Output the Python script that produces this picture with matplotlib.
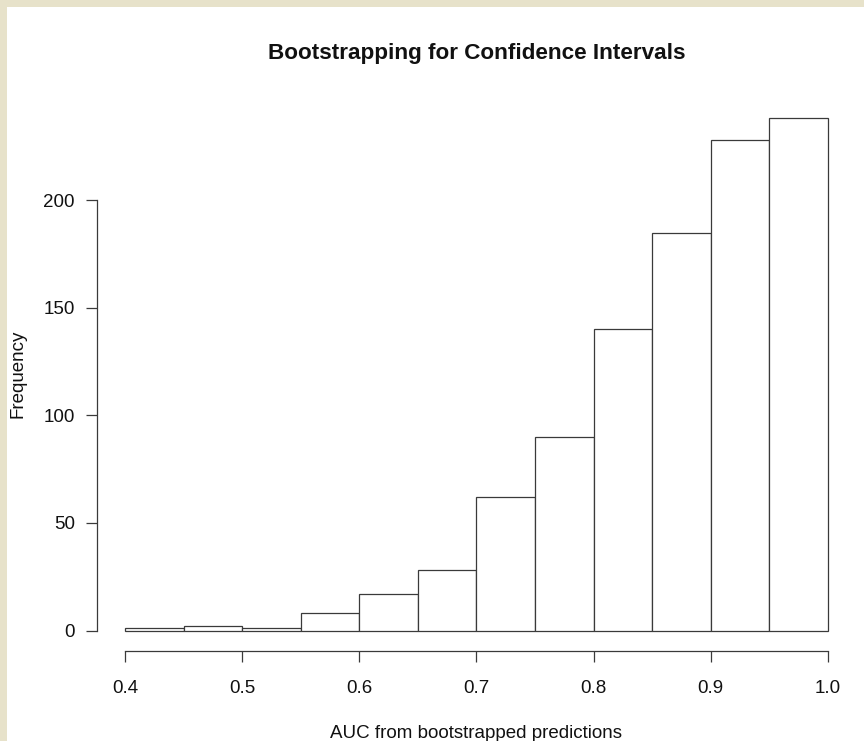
import matplotlib
matplotlib.use("Agg")
import matplotlib.pyplot as plt
from matplotlib.patches import Rectangle
import numpy as np

# Histogram of bootstrapped AUC values (bin edges and counts)
bin_edges = [0.40, 0.45, 0.50, 0.55, 0.60, 0.65, 0.70, 0.75, 0.80, 0.85, 0.90, 0.95, 1.00]
counts = [1, 2, 1, 8, 17, 28, 62, 90, 140, 185, 228, 238]
x_ticks = [0.4, 0.5, 0.6, 0.7, 0.8, 0.9, 1.0]
x_tick_labels = ["0.4", "0.5", "0.6", "0.7", "0.8", "0.9", "1.0"]
y_ticks = [0, 50, 100, 150, 200]

title = "Bootstrapping for Confidence Intervals"
x_label = "AUC from bootstrapped predictions"
y_label = "Frequency"

plt.rcParams["font.family"] = ["Liberation Sans", "DejaVu Sans"]

W, H = 864, 741
fig = plt.figure(figsize=(W / 100, H / 100), dpi=100)
fig.patch.set_facecolor("#E7E2CA")
# white page inside the beige frame
fig.add_artist(Rectangle((7 / W, 0), 1 - 7 / W, 1 - 7 / H,
                         transform=fig.transFigure, facecolor="white",
                         edgecolor="none", zorder=0))

left, right = 97 / W, 856 / W
bottom, top = 1 - 651 / H, 1 - 98 / H
ax = fig.add_axes([left, bottom, right - left, top - bottom])
ax.set_facecolor("none")

edges = np.array(bin_edges)
widths = np.diff(edges)
ax.bar(edges[:-1], counts, width=widths, align="edge",
       facecolor="white", edgecolor="#3a3a3a", linewidth=0.9)

# R-style axis extents (4% padding)
xr = edges[-1] - edges[0]
ax.set_xlim(edges[0] - 0.04 * xr, edges[-1] + 0.04 * xr)
ymax = max(counts)
ax.set_ylim(-0.04 * ymax, ymax * 1.04)

for s in ["top", "right"]:
    ax.spines[s].set_visible(False)
ax.spines["left"].set_bounds(y_ticks[0], y_ticks[-1])
ax.spines["bottom"].set_bounds(x_ticks[0], x_ticks[-1])
for s in ["left", "bottom"]:
    ax.spines[s].set_color("#3a3a3a")
    ax.spines[s].set_linewidth(0.9)

ax.set_xticks(x_ticks)
ax.set_xticklabels(x_tick_labels)
ax.set_yticks(y_ticks)
ax.tick_params(axis="both", direction="out", length=8, width=0.9,
               color="#3a3a3a", labelsize=13.5, labelcolor="#111111")
ax.tick_params(axis="x", pad=13)
ax.tick_params(axis="y", pad=8)

fig.text((left + right) / 2, 1 - 53 / H, title, ha="center", va="center",
         fontsize=16.2, fontweight="bold", color="#111111")
fig.text((left + right) / 2, 1 - 734 / H, x_label, ha="center", va="center",
         fontsize=13.5, color="#111111")
fig.text(18 / W, 1 - 374 / H, y_label, ha="center", va="center",
         rotation=90, fontsize=13.5, color="#111111")

fig.savefig("out.png", dpi=100, facecolor=fig.get_facecolor())
